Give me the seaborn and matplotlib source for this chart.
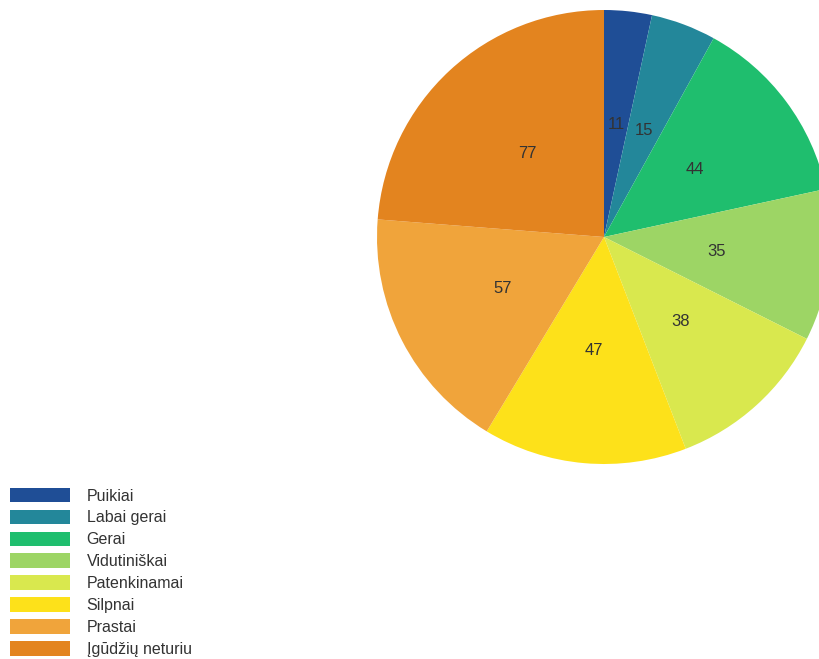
import matplotlib
matplotlib.use("Agg")
import matplotlib.pyplot as plt
import seaborn as sns

categories = ["Puikiai", "Labai gerai", "Gerai", "Vidutiniškai", "Patenkinamai",
              "Silpnai", "Prastai", "Įgūdžių neturiu"]
counts = [11, 15, 44, 35, 38, 47, 57, 77]
hex_colors = ["#1f4e96", "#23879a", "#1fbe6e", "#9dd565", "#d9e84e",
              "#fde11a", "#f0a43b", "#e3841f"]

sns.set_theme(style="white")
plt.rcParams["font.family"] = ["Liberation Sans", "DejaVu Sans"]
palette = sns.color_palette(hex_colors)

W, H = 819, 659
fig = plt.figure(figsize=(W / 100, H / 100), dpi=100)
ax = fig.add_axes([0, 0, 1, 1])

cx, cy, r = 604, H - 237, 227
wedges, texts = ax.pie(
    counts,
    colors=palette,
    startangle=90,
    counterclock=False,
    center=(cx, cy),
    radius=r,
    labels=[str(v) for v in counts],
    labeldistance=0.5,
    wedgeprops=dict(linewidth=0),
    textprops=dict(color="#333333", fontsize=12, ha="center", va="center"),
    frame=True,
)
ax.set_xlim(0, W)
ax.set_ylim(0, H)
ax.set_aspect("equal")
ax.axis("off")

leg = ax.legend(
    wedges, categories,
    loc="lower left",
    bbox_to_anchor=(10 / W, 2 / H),
    frameon=False,
    fontsize=11.5,
    handlelength=3.75,
    handleheight=1.05,
    handletextpad=1.05,
    labelspacing=0.38,
    borderpad=0.0,
    borderaxespad=0.0,
)
for t in leg.get_texts():
    t.set_color("#333333")

fig.savefig("out.png", dpi=100)
